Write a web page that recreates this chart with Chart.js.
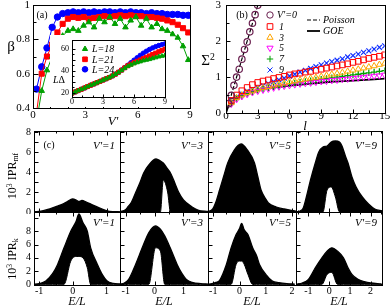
<!DOCTYPE html>
<html><head><meta charset="utf-8">
<script src="https://cdn.jsdelivr.net/npm/chart.js@4.4.1/dist/chart.umd.min.js"></script>
<style>
html,body{margin:0;padding:0;background:#fff;}
#wrap{position:relative;width:390px;height:308px;overflow:hidden;background:#fff;}
canvas{position:absolute;}
.t{position:absolute;white-space:nowrap;font-family:"Liberation Serif","DejaVu Serif",serif;color:#000;line-height:1;}
.i{font-style:italic;}
sup{font-size:0.65em;vertical-align:0.5em;line-height:0;}
sub{font-size:0.65em;vertical-align:-0.3em;line-height:0;}
</style></head><body><div id="wrap"></div>
<script>
// ---------------- DATA ----------------
// panel (a): beta vs V'
const vA = [0.2,0.5,0.8,1.1,1.4,1.7,2.0,2.3,2.6,2.9,3.2,3.5,3.8,4.1,4.4,4.7,5.0,5.3,5.6,5.9,6.2,6.5,6.8,7.1,7.4,7.7,8.0,8.3,8.6,8.9];
const betaL18 = [0.32,0.5,0.62,0.7,0.77,0.82,0.85,0.86,0.85,0.88,0.9,0.87,0.92,0.9,0.93,0.89,0.92,0.87,0.91,0.93,0.88,0.92,0.87,0.89,0.86,0.85,0.83,0.81,0.76,0.68];
const betaL21 = [0.37,0.6,0.7,0.77,0.84,0.89,0.92,0.93,0.925,0.93,0.92,0.925,0.93,0.935,0.93,0.935,0.94,0.935,0.94,0.935,0.935,0.93,0.93,0.925,0.92,0.91,0.9,0.885,0.865,0.84];
const betaL24 = [0.51,0.64,0.75,0.87,0.93,0.95,0.955,0.96,0.955,0.96,0.955,0.96,0.955,0.96,0.96,0.955,0.96,0.955,0.96,0.955,0.955,0.95,0.955,0.95,0.95,0.945,0.945,0.945,0.94,0.94];
// inset: L*Delta vs V'
const vIn = [0,0.3,0.6,0.9,1.2,1.5,1.8,2.1,2.4,2.7,3.0,3.3,3.6,3.9,4.2,4.5,4.8,5.1,5.4,5.7,6.0,6.3,6.6,6.9,7.2,7.5,7.8,8.1,8.4,8.7,9.0];
const ldL18 = [19.5,20.6,21.8,23,24.2,25.5,26.7,27.8,29,30.2,31.4,32.6,33.8,35.2,36.8,38.5,40.3,42.3,44,45.3,46.5,47.5,48.3,49.2,49.8,50.4,51.2,52,52.8,53.4,54];
const ldL21 = [19.5,20.6,21.8,23,24.2,25.5,26.7,27.8,29,30.2,31.4,32.6,33.8,35.2,36.8,38.6,40.5,42.6,44.5,46,47.3,48.6,49.8,51,52.3,53.5,54.8,56,57.3,58.5,59.7];
const ldL24 = [19.5,20.6,21.8,23,24.2,25.5,26.7,27.8,29,30.2,31.4,32.6,33.8,35.2,36.8,38.6,40.6,42.8,45,47.3,49.6,51.8,54,56,57.8,59.4,60.8,62,63,63.8,64.5];
// panel (b): Sigma^2 vs l
const lGrid = [0.5,1,1.5,2,2.5,3,3.5,4,4.5,5,5.5,6,6.5,7,7.5,8,8.5,9,9.5,10,10.5,11,11.5,12,12.5,13,13.5,14,14.5,15];
const sig2V1 = [0.35,0.5,0.62,0.71,0.79,0.85,0.89,0.92,0.96,0.99,1.02,1.06,1.09,1.11,1.14,1.16,1.19,1.22,1.25,1.28,1.31,1.34,1.37,1.41,1.44,1.48,1.52,1.55,1.58,1.62];
const sig2V3 = [0.28,0.42,0.5,0.56,0.61,0.66,0.7,0.73,0.77,0.8,0.83,0.87,0.89,0.92,0.94,0.97,0.99,1.02,1.05,1.08,1.1,1.13,1.16,1.19,1.22,1.25,1.28,1.31,1.35,1.38];
const sig2V5 = [0.25,0.38,0.46,0.52,0.57,0.61,0.64,0.67,0.7,0.73,0.75,0.77,0.79,0.81,0.83,0.84,0.86,0.88,0.89,0.91,0.92,0.94,0.95,0.97,0.98,1.0,1.01,1.03,1.04,1.06];
const sig2V7 = [0.27,0.4,0.48,0.54,0.59,0.63,0.67,0.7,0.73,0.76,0.79,0.82,0.84,0.86,0.88,0.9,0.92,0.94,0.96,0.98,1.0,1.02,1.04,1.06,1.08,1.1,1.12,1.14,1.16,1.18];
const sig2V9 = [0.3,0.44,0.53,0.6,0.66,0.71,0.76,0.82,0.87,0.92,0.97,1.03,1.08,1.14,1.19,1.24,1.29,1.34,1.39,1.43,1.47,1.51,1.56,1.6,1.64,1.69,1.73,1.78,1.83,1.87];
const lV0 = [0.25,0.5,0.75,1,1.25,1.5,1.75,2,2.25,2.5,2.75,3];
const sig2V0 = [0.26,0.49,0.77,1.0,1.22,1.5,1.77,1.98,2.26,2.5,2.74,3.0];
const lGOE = [0,0.1,0.25,0.5,0.75,1,1.5,2,3,4,5,6,8,10,12,15];
const sig2GOE = [0,0.09,0.2,0.3,0.37,0.43,0.51,0.56,0.64,0.69,0.73,0.76,0.82,0.87,0.9,0.96];
const lPois = [0,3.2];
const sig2Pois = [0,3.2];
// panel (c): envelopes of the 10^3 IPR clouds vs E/L
const eMf1 = [-1.15,-0.94,-0.7,-0.45,-0.3,-0.16,-0.01,0.1,0.18,0.27,0.4,0.58,0.8,1.02,1.2,1.4];
const upMf1 = [0.02,0.08,0.3,0.6,0.8,1.05,1.3,1.2,1.05,1.15,1.0,0.72,0.4,0.12,0.04,0.02];
const loMf1 = [0,0,0,0,0,0,0,0,0,0,0,0,0,0,0,0];
const eMf3 = [-1.2,-1.0,-0.93,-0.8,-0.65,-0.5,-0.38,-0.2,0.05,0.2,0.3,0.45,0.55,0.7,0.83,1.0,1.3,1.5,1.85];
const upMf3 = [0.02,0.25,0.5,1.0,2.0,3.0,3.9,4.7,5.3,5.1,4.9,4.3,3.9,2.9,2.0,1.2,0.5,0.2,0.05];
const loMf3 = [0,0,0,0,0,0,0,0,0,0,3.2,2.0,0,0,0,0,0,0,0];
const eMf5 = [-1.22,-1.02,-0.9,-0.76,-0.6,-0.45,-0.2,0.06,0.3,0.57,0.7,0.82,1.0,1.1,1.4,1.7,2.0,2.15];
const upMf5 = [0.02,0.3,1.0,2.2,3.6,4.9,6.2,6.8,6.2,4.9,3.5,2.2,1.3,0.9,0.5,0.3,0.15,0.08];
const loMf5 = [0,0,0,0,0,0,0,0,0,0,0,0,0,0,0,0,0,0];
const eMf9 = [-1.58,-1.4,-1.25,-1.1,-0.9,-0.67,-0.5,-0.3,-0.1,0.1,0.3,0.5,0.62,0.8,0.91,1.1,1.3,1.6,1.9,2.2,2.55];
const upMf9 = [0.02,0.1,0.4,1.5,3.2,4.9,6.0,6.5,6.6,7.0,7.1,7.0,6.6,5.5,4.9,3.5,2.5,1.5,0.8,0.3,0.1];
const loMf9 = [0,0,0,0,0,0,0,0,2.2,2.5,1.5,0,0,0,0,0,0,0,0,0,0];
const eK1 = [-1.15,-1.0,-0.8,-0.6,-0.45,-0.26,-0.06,0.1,0.18,0.3,0.43,0.53,0.73,0.85,1.02,1.2,1.4];
const upK1 = [0.02,0.1,0.5,1.6,3.0,5.5,8.0,9.5,10.6,9.3,8.0,5.5,3.0,1.7,0.5,0.15,0.05];
const loK1 = [0,0,0,0,0,0,3.5,4.2,4.2,4.0,2.5,0,0,0,0,0,0];
const eK3 = [-1.2,-1.05,-0.9,-0.66,-0.43,-0.2,0.03,0.2,0.35,0.54,0.78,0.95,1.1,1.3,1.6,1.85];
const upK3 = [0.02,0.2,0.75,3.0,5.5,7.8,8.8,8.3,7.3,5.5,3.0,1.6,0.75,0.3,0.1,0.03];
const loK3 = [0,0,0,0,0,0,5.5,5.0,0,0,0,0,0,0,0,0];
const eK5 = [-1.2,-1.05,-0.9,-0.76,-0.5,-0.32,-0.13,0.0,0.08,0.18,0.32,0.5,0.65,0.76,1.0,1.25,1.5,1.8,2.1];
const upK5 = [0.02,0.1,0.3,0.6,3.0,5.5,7.5,8.4,9.2,8.2,7.5,5.5,4.3,3.0,1.5,0.5,0.25,0.1,0.03];
const loK5 = [0,0,0,0,0,0,3.0,3.5,3.5,3.0,1.5,0,0,0,0,0,0,0,0];
const eK9 = [-1.58,-1.3,-1.0,-0.67,-0.35,-0.1,0.13,0.4,0.69,0.91,1.1,1.39,1.7,2.0,2.5];
const upK9 = [0.02,0.2,0.75,2.5,4.0,5.0,5.5,5.0,4.0,2.5,1.5,0.75,0.4,0.2,0.05];
const loK9 = [0,0,0,0,0,1.5,1.8,0,0,0,0,0,0,0,0];
// tick labels
const ticksAx = [0,3,6,9], ticksAy = [0.4,0.6,0.8,1.0];
const ticksInx = [0,3,6,9], ticksIny = [20,40,60];
const ticksBx = [0,3,6,9,12,15], ticksBy = [0,1,2,3];
const ticksCy = [0,2,4,6,8];
const ticksCx = [[-1,0,1],[-1,0,1],[-1,0,1,2],[-1,0,1,2]];
const cLabels = [["V'=1","V'=3","V'=5","V'=9"],["V'=1","V'=3","V'=5","V'=9"]];

// ---------------- HELPERS ----------------
Chart.defaults.font.family = "'Liberation Serif','DejaVu Serif',serif";
Chart.defaults.color = '#000';
const W = document.getElementById('wrap');
function mkCanvas(l,t,w,h){const c=document.createElement('canvas');c.width=w;c.height=h;Object.assign(c.style,{left:l+'px',top:t+'px',width:w+'px',height:h+'px'});W.appendChild(c);return c;}
function txt(html,x,y,o={}){const d=document.createElement('div');d.className='t'+(o.i?' i':'');d.innerHTML=html;d.style.fontSize=(o.fs||11)+'px';d.style.left=x+'px';d.style.top=y+'px';const ax=(o.ax!=null?o.ax:0.5),ay=(o.ay!=null?o.ay:0.5);d.style.transform='translate('+(-ax*100)+'%,'+(-ay*100)+'%)'+(o.rot?' rotate('+o.rot+'deg)':'');W.appendChild(d);return d;}
function pts(xs,ys){return xs.map((x,i)=>({x:x,y:ys[i]}));}
function range(a,b,s){const r=[];for(let v=a;v<=b+1e-9;v+=s)r.push(+v.toFixed(4));return r;}
function drawMark(ctx,s,x,y,r,stroke,fill,rot){
  ctx.save();ctx.translate(x,y);if(rot)ctx.rotate(rot*Math.PI/180);
  ctx.strokeStyle=stroke;ctx.fillStyle=fill||'rgba(0,0,0,0)';ctx.lineWidth=1;ctx.beginPath();
  if(s==='circle'){ctx.arc(0,0,r,0,2*Math.PI);}
  else if(s==='rect'){const h=r*Math.SQRT1_2;ctx.rect(-h,-h,2*h,2*h);}
  else if(s==='triangle'){ctx.moveTo(0,-r);ctx.lineTo(r*0.866,r*0.5);ctx.lineTo(-r*0.866,r*0.5);ctx.closePath();}
  else if(s==='cross'){ctx.moveTo(0,-r);ctx.lineTo(0,r);ctx.moveTo(-r,0);ctx.lineTo(r,0);}
  else if(s==='crossRot'){const d=r*Math.SQRT1_2;ctx.moveTo(-d,-d);ctx.lineTo(d,d);ctx.moveTo(d,-d);ctx.lineTo(-d,d);}
  if(fill&&s!=='cross'&&s!=='crossRot')ctx.fill();
  ctx.stroke();ctx.restore();
}
const deco = {
  id:'deco',
  beforeDraw(chart,args,o){if(o.bg){const c=chart.ctx;c.save();c.fillStyle=o.bg;c.fillRect(0,0,chart.width,chart.height);c.restore();}},
  afterDatasetsDraw(chart,args,o){
    const ctx=chart.ctx,a=chart.chartArea,x=chart.scales.x,y=chart.scales.y;
    ctx.save();ctx.strokeStyle='#000';ctx.lineWidth=1;
    const L=Math.round(a.left)+0.5,R=Math.round(a.right)+0.5,T=Math.round(a.top)+0.5,B=Math.round(a.bottom)+0.5;
    (o.xt||[]).forEach(t=>{const p=Math.round(x.getPixelForValue(t[0]))+0.5;ctx.beginPath();ctx.moveTo(p,B);ctx.lineTo(p,B-t[1]);if(o.mx){ctx.moveTo(p,T);ctx.lineTo(p,T+t[1]);}ctx.stroke();});
    (o.yt||[]).forEach(t=>{const p=Math.round(y.getPixelForValue(t[0]))+0.5;ctx.beginPath();ctx.moveTo(L,p);ctx.lineTo(L+t[1],p);if(o.my){ctx.moveTo(R,p);ctx.lineTo(R-t[1],p);}ctx.stroke();});
    ctx.strokeRect(L,T,R-L,B-T);
    (o.marks||[]).forEach(m=>drawMark(ctx,m.s,m.x-o.ox,m.y-o.oy,m.r,m.c,m.f,m.rot));
    (o.lines||[]).forEach(l=>{ctx.save();ctx.lineWidth=l.w||1;ctx.setLineDash(l.dash||[]);ctx.beginPath();ctx.moveTo(l.x1-o.ox,l.y-o.oy);ctx.lineTo(l.x2-o.ox,l.y-o.oy);ctx.stroke();ctx.restore();});
    ctx.restore();
  }
};
function axis(a,show,size,horiz){
  return {type:'linear',min:a.min,max:a.max,display:show,
    grid:{display:false,drawTicks:false},border:{display:false},
    ticks:{display:show,padding:(a.pad!=null?a.pad:3),font:{size:a.fs||11},color:'#000',autoSkip:false,maxRotation:0,minRotation:0,callback:a.fmt||(v=>String(v))},
    afterBuildTicks:s=>{s.ticks=(a.ticks||[]).map(v=>({value:v}));},
    afterFit:s=>{if(show){if(horiz)s.height=size;else s.width=size;}s.paddingLeft=0;s.paddingRight=0;s.paddingTop=0;s.paddingBottom=0;}
  };
}
function makeChart(area,m,cfg){
  const cl=area.L-m.l,ct=area.T-m.t,cw=area.R-area.L+m.l+m.r,ch=area.B-area.T+m.t+m.b;
  const cv=mkCanvas(cl,ct,cw,ch);
  return new Chart(cv,{type:'line',data:{datasets:cfg.datasets},options:{
    responsive:false,maintainAspectRatio:false,animation:false,devicePixelRatio:1,events:[],
    layout:{padding:{top:m.t,right:m.r,left:cfg.yShow?0:m.l,bottom:cfg.xShow?0:m.b}},
    plugins:{legend:{display:false},tooltip:{enabled:false},deco:Object.assign({ox:cl,oy:ct},cfg.deco)},
    scales:{x:axis(cfg.x,!!cfg.xShow,m.b,true),y:axis(cfg.y,!!cfg.yShow,m.l,false)}
  },plugins:[deco]});
}
function ser(xs,ys,o){return Object.assign({data:pts(xs,ys),borderWidth:1,pointRadius:3,pointBorderWidth:1,tension:0,fill:false},o);}
const fmt1 = v=>String(Math.round(v*10)/10);
const tk = (vals,maj,Lmaj,Lmin)=>vals.map(v=>[v,maj(v)?Lmaj:Lmin]);

// ---------------- PANEL (a) ----------------
const GR='#00a000',RD='#ff0000',BL='#0000ff';
makeChart({L:33,T:5,R:192,B:108},{l:33,t:5,r:3,b:22},{
  xShow:true,yShow:true,
  x:{min:0,max:9,ticks:ticksAx,pad:1},
  y:{min:0.4,max:1.0,ticks:ticksAy,pad:3,fmt:fmt1},
  datasets:[
    ser(vA,betaL18,{borderColor:GR,backgroundColor:GR,pointStyle:'triangle',pointRadius:3.2}),
    ser(vA,betaL21,{borderColor:RD,backgroundColor:RD,pointStyle:'rect',pointRadius:3.6}),
    ser(vA,betaL24,{borderColor:BL,backgroundColor:BL,pointStyle:'circle',pointRadius:3.2})
  ],
  deco:{xt:tk(range(0,9,1),v=>v%3===0,5,3),yt:tk(range(0.4,1.0,0.1),v=>Math.round(v*10)%2===0,5,3)}
});
// inset
makeChart({L:72,T:40,R:166,B:97},{l:22,t:5,r:4,b:10},{
  xShow:true,yShow:true,
  x:{min:0,max:9,ticks:ticksInx,pad:0,fs:8},
  y:{min:16,max:68,ticks:ticksIny,pad:3,fs:8},
  datasets:[
    ser(vIn,ldL18,{borderColor:GR,backgroundColor:GR,pointStyle:'triangle',pointRadius:2.6}),
    ser(vIn,ldL21,{borderColor:RD,backgroundColor:RD,pointStyle:'rect',pointRadius:2.8}),
    ser(vIn,ldL24,{borderColor:BL,backgroundColor:BL,pointStyle:'circle',pointRadius:2.2})
  ],
  deco:{bg:'#fff',xt:tk(range(0,9,1),v=>v%3===0,3,2),yt:tk(range(20,60,5),v=>v%10===0,3,2),
    marks:[{s:'triangle',x:85,y:49,r:3,c:GR,f:GR},{s:'rect',x:85,y:59.3,r:3.3,c:RD,f:RD},{s:'circle',x:85,y:69.3,r:2.8,c:BL,f:BL}]}
});

// ---------------- PANEL (b) ----------------
const PU='#6a1f4f',OR='#ffa500',MG='#ff00ff',GB='#00a000',BX='#1030ff';
makeChart({L:226,T:4,R:386,B:113},{l:31,t:4,r:4,b:17},{
  xShow:true,yShow:true,
  x:{min:0,max:15,ticks:ticksBx,pad:-3},
  y:{min:0,max:3,ticks:ticksBy,pad:5},
  datasets:[
    ser(lV0,sig2V0,{showLine:false,borderColor:PU,backgroundColor:'rgba(0,0,0,0)',pointStyle:'circle',pointRadius:3.2,pointBorderWidth:1.2}),
    ser(lGrid,sig2V1,{showLine:false,borderColor:RD,backgroundColor:'rgba(0,0,0,0)',pointStyle:'rect',pointRadius:4}),
    ser(lGrid,sig2V3,{showLine:false,borderColor:OR,backgroundColor:'rgba(0,0,0,0)',pointStyle:'triangle',pointRadius:3.5}),
    ser(lGrid,sig2V5,{showLine:false,borderColor:MG,backgroundColor:'rgba(0,0,0,0)',pointStyle:'triangle',pointRotation:180,pointRadius:3.5}),
    ser(lGrid,sig2V7,{showLine:false,borderColor:GB,backgroundColor:GB,pointStyle:'cross',pointRadius:3.2,pointBorderWidth:1.3}),
    ser(lGrid,sig2V9,{showLine:false,borderColor:BX,backgroundColor:BX,pointStyle:'crossRot',pointRadius:3.5,pointBorderWidth:1.2}),
    ser(lPois,sig2Pois,{pointRadius:0,borderColor:'#000',borderWidth:1.2,borderDash:[4,2]}),
    ser(lGOE,sig2GOE,{pointRadius:0,borderColor:'#000',borderWidth:1.8,cubicInterpolationMode:'monotone'})
  ],
  deco:{xt:tk(range(0,15,1.5),v=>v%3===0,4,3),yt:tk(range(0,3,0.5),v=>v%1===0,4,3),
    marks:[{s:'circle',x:270,y:15,r:3.2,c:PU},{s:'rect',x:270,y:26.5,r:4,c:RD},{s:'triangle',x:270,y:37.5,r:3.6,c:OR},
           {s:'triangle',x:270,y:48,r:3.6,c:MG,rot:180},{s:'cross',x:270,y:59,r:3.2,c:GB},{s:'crossRot',x:270,y:70,r:3.6,c:BX}],
    lines:[{x1:307,x2:320,y:20,dash:[4,2],w:1.2},{x1:307,x2:320,y:31,w:1.8}]}
});

// ---------------- PANEL (c) ----------------
const cols = [[34,120],[120,208],[208,296],[296,382]];
const xr = [[-1.15,1.4],[-1.2,1.85],[-1.2,2.15],[-1.6,2.55]];
const cData = [
  [[eMf1,upMf1,loMf1],[eMf3,upMf3,loMf3],[eMf5,upMf5,loMf5],[eMf9,upMf9,loMf9]],
  [[eK1,upK1,loK1],[eK3,upK3,loK3],[eK5,upK5,loK5],[eK9,upK9,loK9]]
];
const rows = [{T:131,B:212,ymin:0,ymax:8.1,yt:range(0,8,1)},{T:212,B:285,ymin:-0.1,ymax:10.9,yt:range(0,10,2)}];
for(let r=0;r<2;r++){
  for(let c=0;c<4;c++){
    const d=cData[r][c];
    const xtv=range(Math.ceil(xr[c][0]*2)/2,Math.floor(xr[c][1]*2)/2,0.5);
    makeChart({L:cols[c][0],T:rows[r].T,R:cols[c][1],B:rows[r].B},
      {l:c===0?16:2,t:r===0?6:2,r:2,b:r===1?13:2},{
      xShow:r===1,yShow:c===0,
      x:{min:xr[c][0],max:xr[c][1],ticks:ticksCx[c],pad:0,fs:10,fmt:v=>String(v)},
      y:{min:rows[r].ymin,max:rows[r].ymax,ticks:ticksCy,pad:3,fs:10},
      datasets:[
        {data:pts(d[0],d[1]),borderColor:'#000',backgroundColor:'#000',borderWidth:1.3,pointRadius:0,fill:'+1',cubicInterpolationMode:'monotone'},
        {data:pts(d[0],d[2]),borderColor:'#000',backgroundColor:'#000',borderWidth:1,pointRadius:0,fill:false,cubicInterpolationMode:'monotone'}
      ],
      deco:{xt:tk(xtv,v=>Number.isInteger(v),4,2),mx:true,yt:tk(rows[r].yt,v=>true,4,4)}
    });
  }
}

// ---------------- TEXT ----------------
txt('β',11,46,{fs:15});
txt("V'",113,120,{fs:13,i:true});
txt('(a)',42,15,{fs:10});
txt('<i>L</i>Δ',59,80,{fs:10});
txt('L=18',92,49,{fs:10,i:true,ax:0});
txt('L=21',92,59.5,{fs:10,i:true,ax:0});
txt('L=24',92,69.5,{fs:10,i:true,ax:0});

txt('Σ<sup>2</sup>',208,60,{fs:15});
txt('l',305,125,{fs:13,i:true});
txt('(b)',242,15,{fs:10});
txt("V'=0",277,15,{fs:10,i:true,ax:0});
txt('1',279,26.5,{fs:10,i:true,ax:0});
txt('3',279,37.5,{fs:10,i:true,ax:0});
txt('5',279,48,{fs:10,i:true,ax:0});
txt('7',279,59,{fs:10,i:true,ax:0});
txt('9',279,70,{fs:10,i:true,ax:0});
txt('Poisson',323,20,{fs:10,i:true,ax:0});
txt('GOE',323,31,{fs:10,i:true,ax:0});

txt('(c)',49,145,{fs:10});
for(let r=0;r<2;r++)for(let c=0;c<4;c++){
  txt(cLabels[r][c],cols[c][1]-5,r===0?145:222,{fs:11,i:true,ax:1});
}
txt('10<sup>3</sup> IPR<sub>mf</sub>',12,176,{fs:12,rot:-90});
txt('10<sup>3</sup> IPR<sub>k</sub>',12,259,{fs:12,rot:-90});
for(let c=0;c<4;c++) txt('E/L',(cols[c][0]+cols[c][1])/2,301,{fs:12,i:true});
</script></body></html>
